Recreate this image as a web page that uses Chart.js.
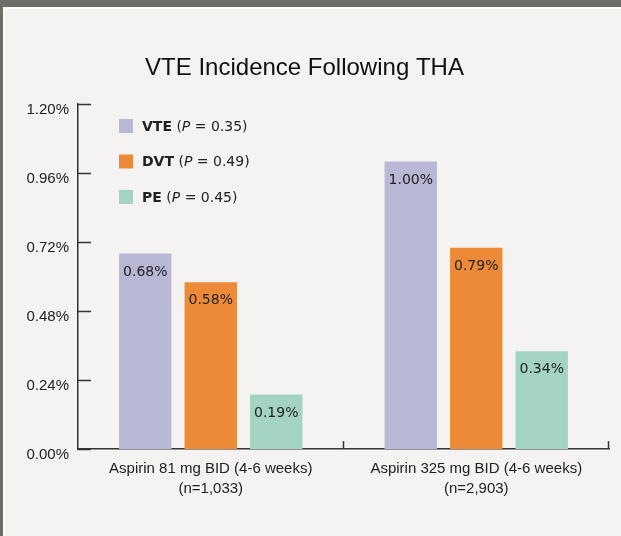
<!DOCTYPE html>
<html>
<head>
<meta charset="utf-8">
<script src="https://cdn.jsdelivr.net/npm/chart.js@4"></script>
<style>
    html, body { margin: 0; padding: 0; background: #f4f3f1; }
    #wrap { width: 621px; height: 536px; }
</style>
</head>
<body>
<div id="wrap"><canvas id="vteChart" width="621" height="536"></canvas></div>
<script>
// values
const groups = [
    ['Aspirin 81 mg BID (4-6 weeks)', '(n=1,033)'],
    ['Aspirin 325 mg BID (4-6 weeks)', '(n=2,903)']
];
const seriesNames = ['VTE', 'DVT', 'PE'];
const pValues = ['0.35', '0.49', '0.45'];
// bar heights as drawn (the 325 mg DVT bar is drawn lower than its 0.79% label)
const vteValues = [0.68, 1.00];
const dvtValues = [0.58, 0.70];
const peValues = [0.19, 0.34];
// printed labels
const vteLabels = ['0.68%', '1.00%'];
const dvtLabels = ['0.58%', '0.79%'];
const peLabels = ['0.19%', '0.34%'];
const yTicks = [0, 0.24, 0.48, 0.72, 0.96, 1.20];

const colors = ['#b8b8d6', '#ec8a38', '#a3d3c1'];
const axisColor = '#333333';

// page frame + background
const framePlugin = {
    id: 'frame',
    beforeDraw(chart) {
        const ctx = chart.ctx;
        ctx.save();
        ctx.fillStyle = '#f4f3f1';
        ctx.fillRect(0, 0, chart.width, chart.height);
        ctx.fillStyle = '#6e6d66';
        ctx.fillRect(0, 0, chart.width, 7);
        ctx.fillRect(0, 0, 3, chart.height);
        ctx.fillStyle = '#fbfbfa';
        ctx.fillRect(3, 7, chart.width, 2);
        ctx.fillRect(3, 7, 2, chart.height);
        ctx.restore();
    }
};

// inward tick marks on both axes
const tickMarks = {
    id: 'tickMarks',
    afterDraw(chart) {
        const ctx = chart.ctx;
        const y = chart.scales.y;
        const x = chart.scales.x;
        const area = chart.chartArea;
        ctx.save();
        ctx.strokeStyle = axisColor;
        ctx.lineWidth = 1.5;
        yTicks.forEach(v => {
            const py = Math.round(y.getPixelForValue(v)) + 0.5;
            ctx.beginPath();
            ctx.moveTo(area.left, py);
            ctx.lineTo(area.left + 13, py);
            ctx.stroke();
        });
        for (let i = 0; i < groups.length; i++) {
            let px;
            if (i < groups.length - 1) {
                px = (x.getPixelForValue(i) + x.getPixelForValue(i + 1)) / 2;
            } else {
                px = area.right;
            }
            px = Math.round(px) - 0.5;
            ctx.beginPath();
            ctx.moveTo(px, area.bottom);
            ctx.lineTo(px, area.bottom - 8);
            ctx.stroke();
        }
        ctx.restore();
    }
};

// value labels inside bar tops
const barLabels = {
    id: 'barLabels',
    afterDatasetsDraw(chart) {
        const ctx = chart.ctx;
        ctx.save();
        ctx.font = '14px "DejaVu Sans"';
        ctx.fillStyle = '#222222';
        ctx.textAlign = 'center';
        ctx.textBaseline = 'middle';
        chart.data.datasets.forEach((ds, di) => {
            chart.getDatasetMeta(di).data.forEach((bar, i) => {
                ctx.fillText(ds.printed[i], bar.x, bar.y + 18.5);
            });
        });
        ctx.restore();
    }
};

// legend with bold name and italic P
const pLegend = {
    id: 'pLegend',
    afterDraw(chart) {
        const ctx = chart.ctx;
        const area = chart.chartArea;
        const left = area.left + 41;
        ctx.save();
        ctx.textBaseline = 'middle';
        chart.data.datasets.forEach((ds, i) => {
            const cy = area.top + 22 + i * 35.5;
            ctx.fillStyle = ds.backgroundColor;
            ctx.fillRect(left, cy - 7, 14, 14);
            ctx.fillStyle = '#222222';
            let tx = left + 23;
            const parts = [
                ['bold 14px "DejaVu Sans"', ds.label],
                ['14px "DejaVu Sans"', ' ('],
                ['italic 14px "DejaVu Sans"', 'P'],
                ['14px "DejaVu Sans"', ' = ' + pValues[i] + ')']
            ];
            parts.forEach(p => {
                ctx.font = p[0];
                ctx.fillText(p[1], tx, cy + 1);
                tx += ctx.measureText(p[1]).width;
            });
        });
        ctx.restore();
    }
};

const ctx = document.getElementById('vteChart').getContext('2d');
new Chart(ctx, {
    type: 'bar',
    data: {
        labels: groups,
        datasets: [
            { label: seriesNames[0], data: vteValues, printed: vteLabels, backgroundColor: colors[0] },
            { label: seriesNames[1], data: dvtValues, printed: dvtLabels, backgroundColor: colors[1] },
            { label: seriesNames[2], data: peValues, printed: peLabels, backgroundColor: colors[2] }
        ]
    },
    options: {
        responsive: false,
        animation: false,
        devicePixelRatio: 1,
        categoryPercentage: 0.74,
        barPercentage: 0.8,
        layout: { padding: { left: 0, right: 12, top: 0, bottom: 27 } },
        plugins: {
            legend: { display: false },
            tooltip: { enabled: false },
            title: {
                display: true,
                text: 'VTE Incidence Following THA',
                color: '#111111',
                font: { family: '"Liberation Sans"', size: 24, weight: 'normal' },
                padding: { top: 54, bottom: 21.2 }
            }
        },
        scales: {
            x: {
                grid: { display: false, drawTicks: false },
                border: { display: true, color: axisColor, width: 1.5 },
                ticks: {
                    color: '#222222',
                    padding: 10,
                    maxRotation: 0,
                    autoSkip: false,
                    font: { family: '"Liberation Sans"', size: 15, lineHeight: 1.33 }
                }
            },
            y: {
                min: 0,
                max: 1.2,
                afterBuildTicks: scale => { scale.ticks = yTicks.map(v => ({ value: v })); },
                afterFit: scale => { scale.width = 78; },
                grid: { display: false, drawTicks: false },
                border: { display: true, color: axisColor, width: 1.5 },
                ticks: {
                    color: '#222222',
                    padding: 9,
                    labelOffset: 6,
                    font: { family: '"Liberation Sans"', size: 15 },
                    callback: v => Number(v).toFixed(2) + '%'
                }
            }
        }
    },
    plugins: [framePlugin, tickMarks, barLabels, pLegend]
});
</script>
</body>
</html>
